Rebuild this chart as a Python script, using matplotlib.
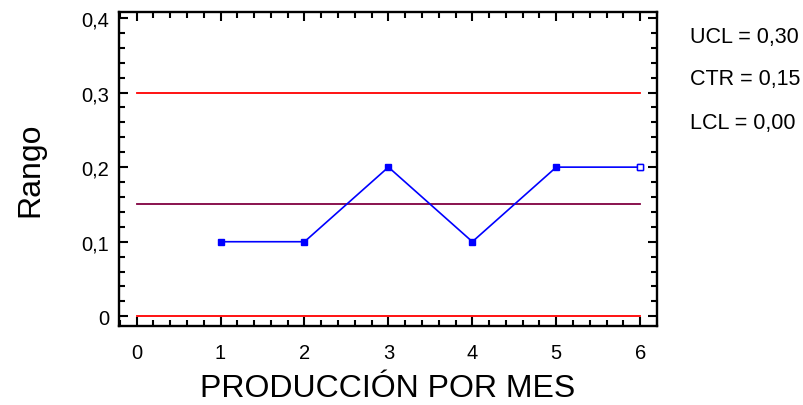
import numpy as np
import matplotlib
matplotlib.use('Agg')
import matplotlib.pyplot as plt
from matplotlib.ticker import MultipleLocator, FuncFormatter

plt.rcParams['font.family'] = ['Liberation Sans', 'DejaVu Sans']

# Data
meses = [1, 2, 3, 4, 5, 6]
rango = [0.1, 0.1, 0.2, 0.1, 0.2, 0.2]
ucl = 0.30
ctr = 0.15
lcl = 0.00
x_span = [0, 6]
etiquetas = ['UCL = 0,30', 'CTR = 0,15', 'LCL = 0,00']

fig = plt.figure(figsize=(8.04, 4.06), dpi=100)
ax = fig.add_axes([119 / 804, 1 - 327 / 406, (657 - 119) / 804, (327 - 13) / 406])

ax.plot(x_span, [ucl, ucl], color='red', lw=1.3)
ax.plot(x_span, [lcl, lcl], color='red', lw=1.3)
ax.plot(x_span, [ctr, ctr], color='#800040', lw=1.3)
ax.plot(meses, rango, color='blue', lw=1.2, marker='s', ms=5)
# last point drawn hollow
ax.plot(meses[-1], rango[-1], marker='s', ms=5, mfc='white', mec='blue', ls='none')

ax.set_xlim(-0.21, 6.2)
ax.set_ylim(-0.013, 0.408)
ax.xaxis.set_major_locator(MultipleLocator(1))
ax.xaxis.set_minor_locator(MultipleLocator(0.2))
ax.yaxis.set_major_locator(MultipleLocator(0.1))
ax.yaxis.set_minor_locator(MultipleLocator(0.02))

def coma(v, pos):
    if abs(v) < 1e-9:
        return '0'
    return ('%.1f' % v).replace('.', ',')

ax.yaxis.set_major_formatter(FuncFormatter(coma))
ax.tick_params(which='both', direction='in', top=True, right=True, labelsize=14.5, width=1.5)
ax.tick_params(which='major', length=6.5)
ax.tick_params(which='minor', length=4)
ax.tick_params(axis='x', pad=12)
ax.tick_params(axis='y', pad=7)
for s in ax.spines.values():
    s.set_linewidth(1.7)

ax.set_ylabel('Rango', fontsize=23, labelpad=26)
ax.set_xlabel('PRODUCCIÓN POR MES', fontsize=23, labelpad=8)

for i, t in enumerate(etiquetas):
    fig.text(690 / 804, 1 - (37 + 43 * i) / 406, t, fontsize=15.5, va='center')

plt.savefig('out.png', dpi=100)
